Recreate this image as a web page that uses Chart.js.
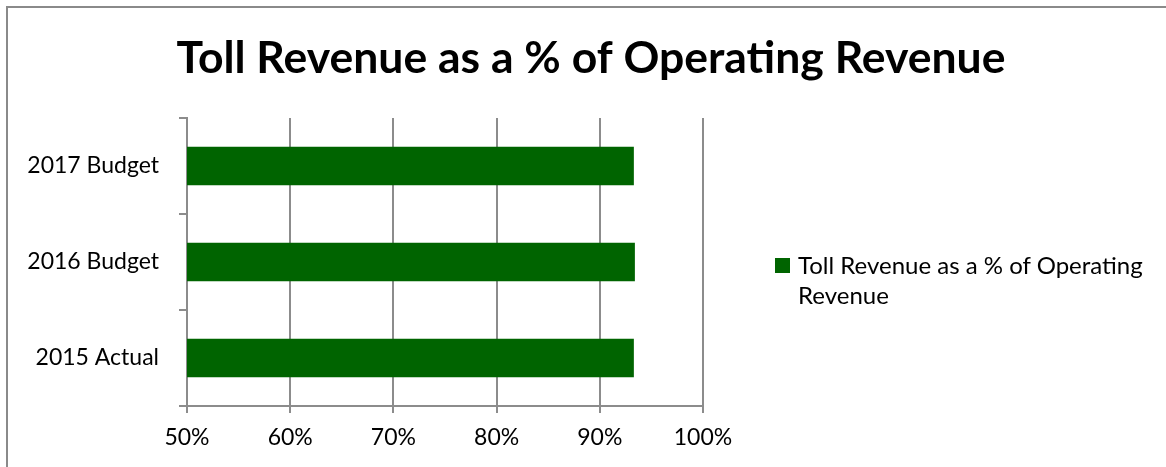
<!DOCTYPE html>
<html>
<head>
<meta charset="utf-8">
<script src="https://cdn.jsdelivr.net/npm/chart.js@4.4.0/dist/chart.umd.min.js"></script>
<style>
    body { margin: 0; background: #fff; }
    #wrap { position: relative; width: 1166px; height: 467px; overflow: hidden; }
    #frame {
        position: absolute; left: 6px; top: 6px;
        width: 1170px; height: 500px;
        border: 2px solid #8a8a8a; box-sizing: border-box;
    }
    canvas { position: absolute; left: 0; top: 0; }
    #legend {
        position: absolute; left: 775px; top: 250px;
        font-family: Lato, "Open Sans", sans-serif; font-size: 24px;
        line-height: 30px; color: #000; width: 385px;
    }
    #legend .item { display: flex; align-items: flex-start; }
    #legend .box { width: 15px; height: 15px; margin: 8px 8px 0 0; flex: none; }
</style>
</head>
<body>
<div id="wrap">
    <div id="frame"></div>
    <canvas id="tollChart" width="1166" height="467"></canvas>
    <div id="legend"></div>
</div>
<script>
const categories = ["2015 Actual", "2016 Budget", "2017 Budget"];
const tollShare = [93.3, 93.4, 93.3];
const seriesName = "Toll Revenue as a % of Operating Revenue";
const chartTitle = "Toll Revenue as a % of Operating Revenue";
const xMin = 50, xMax = 100, xStep = 10;

const green = "#006400";
const gridGrey = "#8c8c8c";
const font = "Lato, 'Open Sans', sans-serif";

// title centred on the whole frame, not just the plot column
const frameTitle = {
    id: "frameTitle",
    afterDraw(chart) {
        const c = chart.ctx;
        c.save();
        c.fillStyle = "#000";
        c.font = "bold 44.5px " + font;
        c.textAlign = "center";
        c.textBaseline = "alphabetic";
        c.fillText(chartTitle, 591, 73);
        c.restore();
    },
};

const ctx = document.getElementById("tollChart").getContext("2d");
const tollChart = new Chart(ctx, {
    type: "bar",
    data: {
        labels: categories,
        datasets: [
            {
                label: seriesName,
                data: tollShare,
                backgroundColor: green,
                barPercentage: 0.4,
                categoryPercentage: 1.0,
            },
        ],
    },
    options: {
        indexAxis: "y",
        responsive: false,
        animation: false,
        layout: { padding: { left: 0, right: 463, top: 118, bottom: 0 } },
        plugins: {
            legend: { display: false },
            tooltip: { enabled: false },
            title: { display: false },
        },
        scales: {
            x: {
                min: xMin,
                max: xMax,
                ticks: {
                    stepSize: xStep,
                    color: "#000",
                    padding: 11,
                    font: { family: font, size: 23 },
                    callback: (v) => v + "%",
                },
                grid: { color: gridGrey, lineWidth: 2, tickLength: 7 },
                border: { color: gridGrey, width: 2 },
                afterFit: (scale) => { scale.height = 61; },
            },
            y: {
                reverse: true,
                ticks: {
                    color: "#000",
                    padding: 20,
                    font: { family: font, size: 23 },
                },
                grid: { drawOnChartArea: false, color: gridGrey, lineWidth: 2, tickLength: 8 },
                border: { color: gridGrey, width: 2 },
                afterFit: (scale) => { scale.width = 187; },
            },
        },
    },
    plugins: [frameTitle],
});

// legend drawn as html so the long series name can wrap
const legend = document.getElementById("legend");
tollChart.data.datasets.forEach((ds) => {
    const item = document.createElement("div");
    item.className = "item";
    item.innerHTML = '<span class="box"></span><span></span>';
    item.children[0].style.background = ds.backgroundColor;
    item.children[1].textContent = ds.label;
    legend.appendChild(item);
});
</script>
</body>
</html>
